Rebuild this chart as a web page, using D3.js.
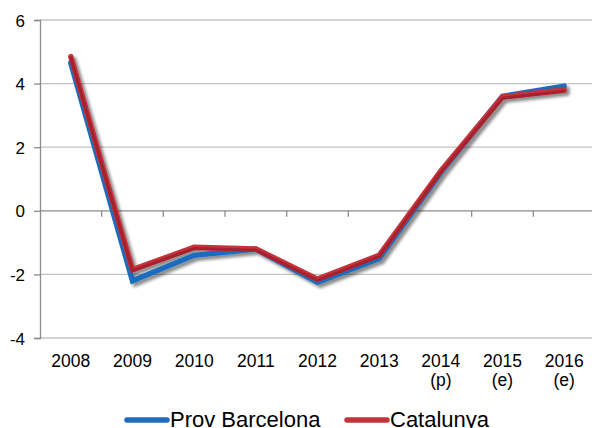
<!DOCTYPE html>
<html>
<head>
<meta charset="utf-8">
<script src="https://cdn.jsdelivr.net/npm/d3@7"></script>
<style>
  body { margin: 0; background: #fff; }
  text { font-family: "Liberation Sans", Arial, sans-serif; fill: #000; }
</style>
</head>
<body>
<svg id="chart" width="592" height="428"></svg>
<script>
// chart data
const years = ["2008", "2009", "2010", "2011", "2012", "2013", "2014", "2015", "2016"];
const yearNotes = ["", "", "", "", "", "", "(p)", "(e)", "(e)"];
const provBarcelona = [4.65, -2.2, -1.4, -1.2, -2.25, -1.5, 1.2, 3.6, 3.92];
const catalunya = [4.85, -1.85, -1.15, -1.2, -2.15, -1.4, 1.25, 3.58, 3.8];
const yTicks = [-4, -2, 0, 2, 4, 6];

const width = 592, height = 428;
const margin = {left: 40, top: 20, right: -3, bottom: 90};

const svg = d3.select("#chart");

// drop shadow under the lines
const defs = svg.append("defs");
defs.append("filter")
    .attr("id", "shadow")
    .attr("x", "-10%").attr("y", "-10%")
    .attr("width", "130%").attr("height", "130%")
  .append("feDropShadow")
    .attr("dx", 3).attr("dy", 3)
    .attr("stdDeviation", 1.8)
    .attr("flood-color", "#000")
    .attr("flood-opacity", 0.45);

let x = d3.scaleBand()
  .domain(years)
  .range([margin.left, width - margin.right])
  .padding(0);

let y = d3.scaleLinear()
  .domain([-4, 6])
  .range([338, margin.top]);

// gridlines
svg.append("g").selectAll("line")
  .data(yTicks).enter()
  .append("line")
    .attr("x1", margin.left).attr("x2", width - margin.right)
    .attr("y1", d => y(d)).attr("y2", d => y(d))
    .attr("stroke", d => d === 0 ? "#8c8c8c" : "#c4c4c4")
    .attr("stroke-width", 1.3);

// y axis (plain hyphen for negatives, like the original)
const yAxis = svg.append("g")
  .attr("transform", "translate(" + margin.left + ",0)")
  .call(d3.axisLeft(y).tickValues(yTicks).tickSize(6).tickPadding(10).tickFormat(d => String(d)));
yAxis.select(".domain").attr("stroke", "#8c8c8c").attr("stroke-width", 1.3);
yAxis.selectAll(".tick line").attr("stroke", "#8c8c8c").attr("stroke-width", 1.3);
yAxis.selectAll("text")
  .style("font-size", "17px")
  .attr("font-family", null)
  .attr("x", -15)
  .attr("dy", "0.36em");

// x ticks on the zero line, between categories
svg.append("g").selectAll("line")
  .data(years.slice(1)).enter()
  .append("line")
    .attr("x1", d => x(d)).attr("x2", d => x(d))
    .attr("y1", y(0)).attr("y2", y(0) + 6)
    .attr("stroke", "#8c8c8c")
    .attr("stroke-width", 1.3);

// x labels at the bottom
const xl = svg.append("g").selectAll("text")
  .data(years).enter()
  .append("text")
    .attr("x", d => x(d) + x.bandwidth() / 2)
    .attr("y", 367)
    .attr("text-anchor", "middle")
    .style("font-size", "17.5px");
xl.append("tspan").text(d => d);
xl.append("tspan")
  .attr("x", d => x(d) + x.bandwidth() / 2)
  .attr("dy", 19)
  .text((d, i) => yearNotes[i]);

// series lines
const line = d3.line()
  .x((d, i) => x(years[i]) + x.bandwidth() / 2)
  .y(d => y(d));

const series = [
  {name: "Prov Barcelona", values: provBarcelona, color: "#1f6cbd"},
  {name: "Catalunya", values: catalunya, color: "#c4333a"}
];

const lines = svg.append("g").attr("filter", "url(#shadow)");
series.forEach(s => {
  lines.append("path")
    .datum(s.values)
    .attr("d", line)
    .attr("fill", "none")
    .attr("stroke", s.color)
    .attr("stroke-width", 5.5)
    .attr("stroke-linejoin", "miter")
    .attr("stroke-linecap", "round");
});
// darker lower edge for the red line
lines.append("path")
  .datum(catalunya)
  .attr("d", line)
  .attr("transform", "translate(0,1.2)")
  .attr("fill", "none")
  .attr("stroke", "#9c1f2c")
  .attr("stroke-width", 3)
  .attr("stroke-linecap", "round")
  .attr("opacity", 0.8);

// legend
const legendPos = [127, 347];
series.forEach((s, i) => {
  const g = svg.append("g").attr("transform", "translate(" + legendPos[i] + ",420)");
  g.append("line")
    .attr("x1", 0).attr("x2", 40)
    .attr("stroke", s.color)
    .attr("stroke-width", 5.5)
    .attr("stroke-linecap", "round");
  g.append("text")
    .attr("x", 43)
    .attr("y", 7)
    .style("font-size", "22px")
    .text(s.name);
});
</script>
</body>
</html>
